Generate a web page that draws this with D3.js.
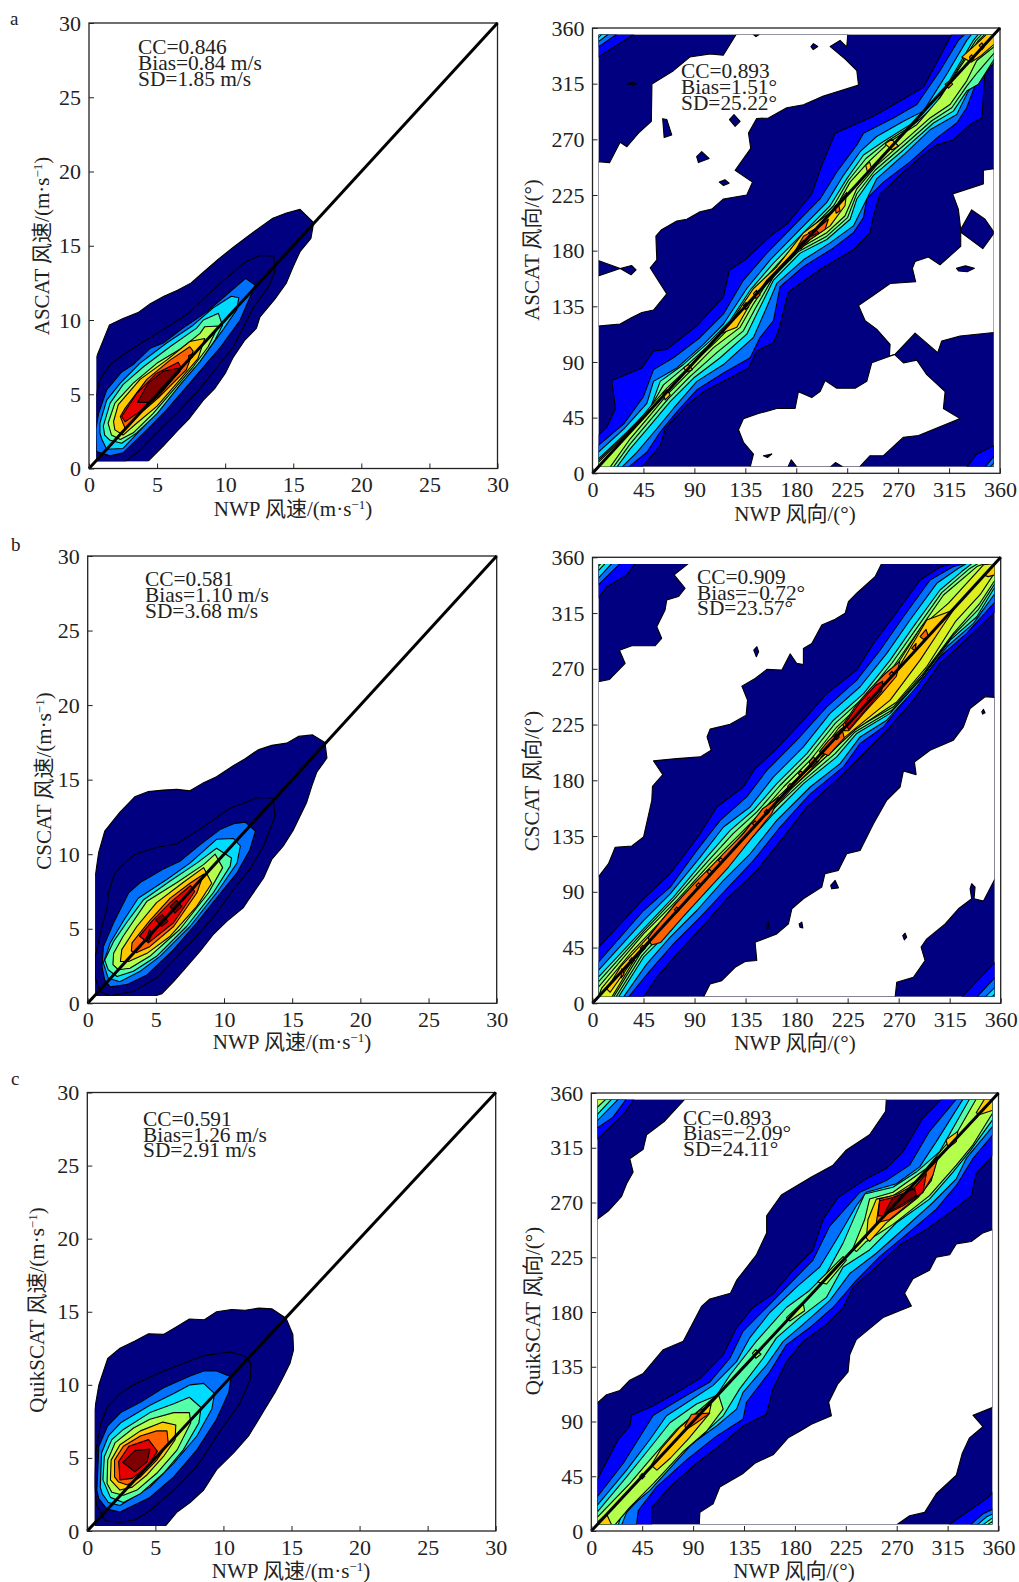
<!DOCTYPE html>
<html>
<head>
<meta charset="utf-8">
<script src="https://cdn.jsdelivr.net/npm/d3@7"></script>
<style>
  body { margin: 0; background: #fff; }
  text { font-family: "Liberation Serif", "Noto Sans CJK SC", serif; fill: #222; }
</style>
</head>
<body>
<script>
//CONTOUR DATA: [level, polygon] in axis units. level -1 is empty (white), drawn in list order
const speedA = [
  [0,[[.5,.45],[.5,7.4],[1.5,9.67],[2.5,10.1],[3.6,10.5],[4.5,11.1],[5.5,11.6],[6.5,12],[7.5,12.5],[8.5,13.3],[9.5,14.1],[10.6,14.9],[11.6,15.6],[12.5,16.2],[13.5,16.85],[14.5,17.2],[15.5,17.45],[16.5,16.55],[16.3,15.5],[15.5,14.6],[15,13.6],[14.5,12.5],[13.65,11.4],[12.55,10.2],[12.3,9.45],[11.45,8.65],[10.6,7.5],[10,6.4],[9.25,5.4],[8.4,4.6],[7.4,3.4],[6.45,2.5],[5.45,1.5],[4.3,.45]]],
  [1,[[.5,4.75],[.8,6],[1.55,7],[2.5,7.65],[3.75,8.4],[5.45,9.35],[7.3,10.45],[9.35,12.25],[11.45,13.9],[12.55,14.35],[13.55,14.3],[13.65,13.25],[13.25,12.35],[12.05,10.8],[10.6,8.2],[9.35,6.75],[8.15,5.4],[6.7,3.95],[5.2,2.6],[3.75,1.25],[2.65,.45],[.5,.45]]],
  [2,[[.5,2.6],[.7,3.7],[1.3,5.3],[2.4,6.5],[3.25,7],[4.5,8.1],[5.45,8.45],[6.9,9.45],[8.65,10.55],[10.1,11.7],[11.5,12.8],[12.2,12.35],[11.95,11.8],[11.1,10],[9.6,8.1],[8.65,7.1],[7.4,5.75],[5.7,3.95],[4.25,2.6],[2.5,1.05],[1.55,.85],[.55,1.15]]],
  [3,[[.8,3.05],[1.3,4.6],[2.3,5.75],[3.75,7.1],[5.7,8.45],[7.65,9.65],[9.1,10.8],[10.45,11.6],[11,11.5],[10.85,10.7],[9.85,9.35],[8.4,7.55],[6.9,6],[5.45,4.4],[4.25,3.05],[2.5,1.35],[1.3,1.3],[.95,1.95],[.8,2.4]]],
  [4,[[1.05,2.85],[1.55,4.4],[2.5,5.65],[4,6.85],[5.95,8.2],[7.9,9.45],[8.4,10],[9.5,10.45],[9.8,9.65],[9.25,8.65],[8.15,7.2],[6.7,5.65],[5,3.7],[3.5,2.4],[2.4,1.7],[1.55,1.9],[1.15,2.25]]],
  [5,[[1.4,3.05],[1.9,4.4],[3.25,5.75],[5,7.1],[6.8,8.1],[8.15,9.1],[8.5,9.55],[9.5,9.6],[8.75,8.2],[7.65,6.85],[6.2,5.3],[4.7,3.7],[3.25,2.4],[2.3,1.95],[1.65,2.25]]],
  [6,[[1.8,3.15],[2.15,4.3],[3.75,6],[5.7,7.3],[7.4,8.55],[8.5,8.75],[8,7.4],[6.7,6],[5,4.2],[3.5,3.05],[2.5,2.25],[1.9,2.6]]],
  [7,[[2.3,3.5],[2.65,4.05],[4.25,6],[5.95,7.3],[7.4,8.2],[7.65,7.9],[7.15,6.65],[5.2,4.85],[3.75,3.7],[2.65,2.7]]],
  [8,[[2.4,3.5],[3.5,5.05],[4.95,6.4],[6.55,7.15],[6.8,6.75],[5.2,4.95],[3.75,3.85],[2.65,3.15]]],
  [8,[[7.3,7.6],[7.65,7.75],[7.6,7.5],[7.35,7.4]]],
  [9,[[3.55,4.45],[4.35,5.75],[5.45,6.55],[6.55,6.75],[6.7,6.55],[5.45,5.3],[4.35,4.45]]]
]
const speedB = [
  [0,[[.55,.45],[.55,8.5],[.8,10.1],[1.25,11.55],[2.35,12.8],[3.45,13.85],[4.45,14.2],[5.55,14.3],[6.55,14.35],[7.5,14.25],[8.5,14.8],[9.45,15.2],[10.7,15.95],[11.55,16.4],[12.5,17],[13.5,17.3],[14.6,17.45],[15.45,17.9],[16.5,18],[17.4,17.5],[17.55,16.45],[16.8,15.5],[16.45,14.6],[16.05,13.45],[15.1,11.65],[14.35,10.55],[13.5,9.65],[12.9,8.4],[11.8,6.95],[11.4,6.4],[10.2,5.5],[9.2,4.6],[8.25,3.5],[7.25,2.45],[6.3,1.45],[5.45,.65],[4.8,.45]]],
  [1,[[.55,3.15],[1.05,5.15],[1.45,6.5],[1.5,7.4],[2,8.75],[2.6,9.3],[3.45,10],[5.05,10.45],[6.55,10.7],[8,11.55],[9.45,12.45],[10.45,13.1],[11.65,13.5],[12.5,13.8],[13.6,13.75],[13.75,12.55],[12.9,10.55],[11.9,9],[10.7,7.65],[9.45,6.05],[8,4.5],[6.3,2.9],[5.05,1.7],[3.35,.8],[1.65,.5],[.9,.8],[.55,1.7]]],
  [2,[[1.05,2.45],[1.15,3.8],[1.9,5.4],[3,7.4],[3.85,8.1],[5.55,9],[6.8,9.55],[8.25,10.65],[9.7,11.65],[10.7,12.05],[11.55,12.15],[12.3,11.55],[11.9,10.3],[10.95,8.75],[9.45,7.05],[8,5.4],[6.3,3.6],[4.35,1.9],[2.85,1.25],[1.65,1.1],[1.25,1.55]]],
  [3,[[1.15,2.7],[1.65,4.05],[2.6,5.5],[3.7,7.05],[5.8,8.3],[7.5,9.4],[9.45,11],[10.7,11.05],[11.2,10.55],[10.95,9.4],[9.45,7.4],[7.5,5.15],[5.3,3.15],[3.85,2.15],[2.35,1.45],[1.5,1.7]]],
  [4,[[1.25,2.9],[1.9,4.15],[3,5.6],[4.1,6.95],[6.05,8.2],[8,9.4],[9.45,10.4],[10.55,9.75],[10.45,9.2],[9.2,7.4],[7.25,5.15],[5.05,3.15],[3.35,2.15],[2.15,1.8],[1.5,2.25]]],
  [5,[[1.85,2.6],[1.9,3.35],[2.6,4.5],[4.35,6.85],[6.55,8.1],[8.5,9.3],[9.35,10],[9.9,9.1],[8.85,7.4],[6.75,4.95],[4.55,3.15],[3.1,2.35],[2.25,2.25]]],
  [6,[[2.4,2.8],[2.5,3.6],[3.6,5.15],[5.05,6.75],[7,8.1],[8.5,9.1],[9.1,8.05],[8,6.5],[6.05,4.5],[4.35,3.35],[3,2.8]]],
  [7,[[3.2,3.5],[3.25,4.05],[4.6,5.6],[6.05,7.05],[7.5,8.05],[8.5,8.65],[8,7.4],[6.3,5.15],[4.55,3.8],[3.6,3.4]]],
  [8,[[3.8,4.5],[4.8,5.6],[6.05,6.75],[7.55,7.9],[7.85,7.5],[6.3,5.4],[4.45,4.05]]],
  [9,[[4.3,4.35],[4.55,4.95],[4.7,4.6],[4.45,4.15]]],
  [9,[[5,5.6],[5.45,5.95],[5.9,5.5],[5.4,5.15]]],
  [9,[[6.05,6.5],[6.5,6.9],[6.9,6.5],[6.4,6.05]]]
]
const speedC = [
  [0,[[.5,.3],[.5,8.1],[.85,10],[1.5,11.8],[2.4,12.5],[3.5,13],[4.5,13.5],[5.6,13.45],[6.6,14],[7.5,14.5],[8.6,14.45],[9.5,15],[10.6,15.15],[11.6,15.1],[12.6,15.25],[13.55,15.2],[14.6,14.55],[15.1,13.45],[15.15,12.4],[14.9,11.5],[14.4,10.55],[13.8,9.5],[13.05,8.35],[11.85,6.5],[10.75,5.35],[9.5,4.2],[8.55,2.8],[7.55,1.95],[6.6,1.3],[5.7,.3]]],
  [1,[[.5,3.25],[.65,5.55],[.95,7.2],[1.45,8.45],[2.4,9.4],[3.4,10],[5.6,10.95],[7.55,11.65],[8.55,12],[10.5,12.25],[11.6,11.95],[12,11.5],[12,10.45],[11.25,8.8],[9.5,6.5],[8.05,4.4],[6.35,2.8],[4.6,1.4],[3.5,.75],[2.4,.6],[1.3,.7],[.7,1.75]]],
  [2,[[.7,2.8],[.85,5.8],[1.5,7.2],[2.45,8.1],[3.9,8.8],[5.6,9.8],[7.55,10.6],[8.55,10.95],[9.5,10.95],[10.55,10.55],[10.4,9.5],[9.5,7.65],[8.05,5.55],[6.35,3.7],[4.6,2.3],[2.4,1.3],[1.45,1.5],[.85,2.2]]],
  [3,[[.95,3],[1.05,5.35],[1.55,6.5],[2.45,7.4],[4.6,8.6],[6.35,9.4],[7.55,10],[8.55,10.1],[9.35,9.4],[9.15,8.35],[8.05,6.5],[6.35,4.65],[4.6,3],[2.4,1.75],[1.55,1.95],[1.1,2.55]]],
  [4,[[1.15,3.5],[1.25,5.1],[1.8,6.25],[2.65,6.95],[4.6,8.1],[6.35,8.7],[7.5,9.15],[8.35,8.45],[8.2,7.4],[7.05,5.55],[5.6,3.95],[3.9,2.55],[2.65,1.95],[1.7,2.3]]],
  [5,[[1.45,3.25],[1.5,4.85],[2.05,6.05],[3.4,7.05],[4.6,7.65],[6.35,8.1],[7.5,8.1],[7.6,7.4],[6.6,5.55],[5.1,3.95],[3.65,2.8],[2.65,2.45],[1.8,2.65]]],
  [6,[[1.7,3.5],[1.75,4.85],[2.4,5.9],[3.9,6.85],[5.55,7.45],[6.5,7.25],[6.45,6.25],[5.6,5.1],[4.4,3.85],[3.3,3],[2.4,2.8]]],
  [7,[[2,3.7],[2,4.85],[2.65,5.8],[3.9,6.5],[5.1,6.85],[5.85,6.85],[5.95,6],[5.1,4.85],[3.9,3.7],[2.95,3.15],[2.3,3.35]]],
  [8,[[2.4,3.5],[2.3,4.75],[3.05,5.8],[4.5,6.25],[5.15,5.45],[4.4,4.4],[3.3,3.6]]],
  [9,[[2.6,4.7],[3.5,5.5],[4.6,5.6],[4.4,4.75],[3.5,4.05]]]
]
const dirA = [
  [0,[[5,5],[355,5],[355,355],[5,355]]],
  [-1,[[127,355],[115.5,338],[104,339],[86,336.5],[71.5,325.5],[52.5,314.6],[52,284.6],[40.6,275],[30.4,264],[24.4,267.6],[15,251],[5,252],[5,119],[24.4,120.7],[34.7,126],[43.6,130],[53.9,132],[65.6,145],[51,166],[56.8,172.6],[56,191.7],[61,197],[74.5,204],[83.3,205.4],[95,211.4],[105.4,213.6],[115.7,221.8],[136.3,225],[141.3,235.4],[126,245],[139.8,262.7],[137.8,275],[145,286.8],[155.4,287.3],[171.6,295.5],[186.4,298],[204,305],[235,313.8],[233.5,325.5],[223,335],[210,345],[218.7,350],[224.6,344.7],[225.5,355]]],
  [-1,[[355,246.3],[345.3,245],[345.3,234],[318.2,225.9],[323.2,213.6],[325.3,197.2],[325.3,183.5],[307,168.5],[296.7,174.8],[285,171.2],[282.6,165.8],[285.5,154.8],[263,153.5],[248.2,144],[235,135.7],[240.9,123.4],[251,116.6],[262.9,104.3],[262.3,94.8],[267,96],[285,113.3],[305,97.5],[308.5,107],[324.7,111],[355,113.9]]],
  [-1,[[261.4,94.2],[246.7,89.3],[242.3,74.3],[232,68.8],[215.8,68.8],[205.5,75],[201,66],[193.7,61.2],[181.9,66],[179,52.4],[162.8,52.4],[146.6,48.3],[133.4,44.2],[129,35.2],[133.4,25.1],[142.2,15.6],[139.3,5],[235.8,5],[245.2,14.2],[257,14.2],[274.7,29.2],[288,30.6],[324.7,44.2],[310,52.4],[311.5,66],[295.3,79.7],[286.5,91.5],[274.7,89.3],[267,96]]],
  [0,[[30.4,315],[36,316],[39,315],[36,314]]],
  [0,[[62,286.7],[65.6,286],[70,273.6],[63.3,271.5]]],
  [0,[[121,286],[125,290],[130.4,284.6],[126,280.5]]],
  [0,[[92,256],[96.5,260],[103,254.5],[93.6,251.2]]],
  [0,[[112,235.4],[117,237.3],[120.7,234.5],[115.7,232.7]]],
  [0,[[193,345],[195.2,347.4],[199,345],[195,342.5]]],
  [0,[[141.6,355],[144.4,353],[147.6,355]]],
  [0,[[5,172],[24.5,165.5],[34.5,168],[38.5,164.5],[34,160.5],[24.5,165.5],[5,159.5]]],
  [0,[[325.3,197.2],[335,213],[346.8,205.4],[355,194.5],[344.8,181.6],[326,194.5]]],
  [0,[[321.5,165.8],[329.5,167.7],[337.4,165.8],[331,163],[323.5,163.5]]],
  [0,[[151,14.2],[158.4,15.6],[154.6,12.8]]],
  [0,[[172.6,5],[175.6,10.9],[180.6,5]]],
  [0,[[210,5],[214.6,8.7],[221.7,5]]],
  [1,[[5,355],[36.8,355],[5,336.5]]],[2,[[5,355],[21.6,355],[5,344.6]]],[3,[[5,355],[14.1,355],[5,348.8]]],[4,[[5,355],[8.2,355],[5,352]]],
  [1,[[330.6,5],[339.5,15.6],[355,22.4],[355,5]]],[2,[[346.8,5],[355,14.2],[355,5]]],[3,[[351.3,5],[355,8.7],[355,5]]],
  [1,[[5,30.6],[12.7,37.4],[20.3,52.4],[17,75],[43.6,85.2],[53.9,98.9],[65.7,100.2],[92.2,119.3],[115.7,142.6],[121,164.4],[134.8,172.6],[157,191.7],[171.6,201.3],[186.4,217.7],[193.7,225.9],[202.6,249],[214.4,275],[248.2,288.7],[271.7,301],[292.3,312],[310,342],[317.3,355],[355,355],[355,339],[346.8,327],[344,287.3],[333.5,282],[318.8,269.5],[304,265.5],[295.3,260],[274.7,243.6],[254,225.9],[248.2,208],[245.2,194.5],[230.5,180.8],[202.6,165.8],[173,146.7],[164.3,115.2],[159.9,105.7],[145.1,98.9],[137.8,85.2],[98,66],[83.3,55.2],[64.2,36],[59.8,22.4],[43.6,5],[5,5]]],
  [2,[[5,22.4],[27.8,40.1],[45,62],[53.9,83.8],[71.5,93.4],[95,109.8],[115.7,128.9],[133.4,156.2],[154,178],[183.4,205.4],[201,221.8],[215.8,243.6],[233.5,265.5],[239.4,275],[265.8,287.3],[286.5,298.2],[307,325.5],[323.2,350],[329,355],[355,355],[355,335],[339.5,317.3],[330.6,295.5],[321.8,283.2],[304,271],[280.6,251.8],[257,235.4],[242.3,221.8],[239.4,206.7],[230.5,194.5],[212.9,182.2],[186.4,167.1],[165.7,150.8],[159.9,123.4],[148,109.8],[139.3,93.4],[115.7,81.1],[92.2,67.5],[74.5,49.7],[59.8,33.3],[48,17],[31.8,5],[5,5]]],
  [3,[[5,17],[27.8,36],[48,56.5],[53.9,74.3],[74.5,85.2],[98,104.3],[115.7,120.7],[136.3,149.4],[157,172.6],[186.4,200],[207,219],[221.7,240.9],[236.4,260],[251,272.3],[274.7,284.6],[292.3,292.8],[313,322.8],[330.6,350],[335,355],[355,355],[355,332.4],[345.3,321.4],[335,314.6],[321.8,290],[298.2,277.7],[274.7,257.3],[251,238],[239.4,216.3],[230.5,200],[209.9,186.3],[186.4,172.6],[162.8,153.5],[154,134.4],[142.2,109.8],[115.7,87.9],[92.2,74.3],[71.5,52.4],[56.8,36],[39.2,17],[25.9,5],[5,5]]],
  [4,[[5,11.5],[30.3,33.3],[51,52.4],[59.8,74.3],[80.4,88],[104,107],[121.6,123.4],[139.3,148],[159.9,170],[189.3,197.2],[209.9,216.3],[224.6,238],[239.4,257.3],[257,268.2],[280.6,281.8],[298.2,290],[318.8,322.8],[336.5,350],[341,355],[355,355],[355,335],[341,314.6],[330.6,309],[318.8,292.8],[301.2,283.2],[274.7,261.4],[248.2,240.9],[233.5,221.8],[227.6,205.4],[207,189],[183.4,178],[159.9,156.2],[145.1,128.9],[136.3,112.5],[112.8,93.4],[89.3,77],[68.6,57.9],[51,38.8],[33.3,19.7],[21.5,5],[5,5]]],
  [10,[[5,10],[33,35],[51,53],[62.7,71.5],[83,87],[107,107],[124.5,123.4],[142,146.7],[163,168.5],[191,196],[213,216.3],[226,236.7],[241.6,254.5],[260,268.2],[283.5,281.8],[302.6,297],[321.7,325.5],[338.7,350],[344,355],[355,355],[355,340],[340,324],[330.6,313],[317.4,295.5],[299.7,285],[274.7,264.8],[249.6,245],[233.5,226],[225.3,206.7],[207,191.7],[182,179.4],[159.9,159],[143.7,133],[133.3,115.2],[109.8,97.5],[86.3,78.3],[67.2,60.6],[51,43],[33.3,23.8],[18.5,5],[5,5]]],
  [5,[[5,8.7],[36.2,37.4],[51,53.8],[65.7,68.8],[86.3,86.6],[109.8,107],[127.5,123.4],[145,145.3],[165.7,167],[192,194.5],[215.8,216.3],[227.6,235.4],[243.8,251.8],[262.9,268.2],[286.5,281.8],[307,303.7],[324.7,328.3],[341,350],[346.8,355],[355,355],[355,345],[339.5,333.7],[330.6,317.3],[315.9,298.2],[298.2,287.3],[274.7,268.2],[251,249],[233.5,230],[223,208],[207,194.5],[180.5,180.8],[159.9,161.7],[142.2,137],[130.4,118],[106.9,101.6],[83.3,79.7],[65.7,63.4],[51,47],[33.3,27.9],[15.6,5],[5,5]]],
  [6,[[112.8,112.5],[123,123.4],[142.2,149.4],[162.8,167],[186.4,194.5],[209.9,210.8],[224.6,227.2],[223,216.3],[209.9,200],[192.2,189],[171.6,172.6],[154,156.2],[139.3,137],[127.5,118],[115.7,113.9]]],
  [6,[[258.5,266.3],[264.4,270],[270.3,264.6],[264.4,261.4]]],
  [6,[[241.4,249],[244.7,251.8],[246.7,246.3],[242.9,243.6]]],
  [6,[[62.1,64.7],[65.7,67.5],[68.6,63.4],[64.2,59.3]]],
  [6,[[80.4,85.2],[84.8,88],[88.3,83.8],[83.3,82]]],
  [6,[[311.5,314.6],[315.3,317.3],[318.2,314.6],[314.4,311.3]]],
  [6,[[326.2,336.5],[339.5,347.4],[348.3,355],[355,355],[355,347],[343.5,337.8],[334.7,332.4]]],
  [7,[[174.6,172.6],[186.4,191.7],[198,197.2],[208.4,205.4],[205.5,197.2],[192.2,189],[180.5,179.4]]],
  [7,[[214.3,216.3],[217.3,217.7],[218.7,212.2],[215.2,210.3]]],
  [7,[[142.2,145.3],[145,148],[148,144],[144.5,141.2]]],
  [7,[[133.4,135.7],[135.7,138],[138,134.4],[134.8,132.4]]],
  [7,[[333,336.5],[335,338.4],[337,335],[334.4,333.2]]],
  [7,[[341.6,346],[344,348],[346,344.7],[344,342.5]]],
  [8,[[190.8,194.5],[196.7,197.7],[199.6,194.5],[193.7,191.7]]],
  [8,[[183,184.9],[186.4,188.4],[187.8,184.9],[184,181.3]]]
]
const dirB = [
  [0,[[5,5],[355,5],[355,355],[5,355]]],
  [-1,[[5,259.5],[15,261.4],[28.8,274.4],[23.8,285],[34.7,288.6],[55.3,288.6],[61,294.6],[56.7,304],[64,317.5],[65.5,325.6],[75.8,328.3],[81.7,335],[72,345.8],[84.6,355],[255,355],[249.2,344.4],[233,331],[225.7,324.2],[222.8,314.8],[214,310],[202.2,305.3],[193.4,290.5],[186,286.5],[186,273.5],[180,274.4],[174.3,282],[167,269],[153.7,269.5],[143.4,262.2],[131.7,256],[136.7,244.7],[135.5,232.6],[121.4,225.3],[103.7,221.3],[101,215],[104.6,204.3],[95,198.9],[74.4,197.5],[53.8,195.7],[62,184.6],[52.9,175.2],[52.3,163.9],[45,134.2],[34.7,127],[20,126],[14.1,112.7],[5,101.9]]],
  [-1,[[97.9,5],[103.7,15.6],[114,18.3],[125.8,29.1],[134.6,33.7],[144.9,34.5],[143.4,49.3],[162.5,56],[172.8,64.1],[175.8,76.3],[186,84.4],[202.2,93.8],[205,104.6],[216.9,107.3],[224.2,120.7],[236,123.4],[247.8,145],[259.5,163.9],[271.3,174.6],[274.2,187.6],[285.4,184.6],[283.9,194.8],[297.7,204.3],[318.3,212.4],[327.1,223.1],[333,238],[346.2,247.4],[355,246.9],[355,100.5],[344.8,82.5],[336.5,84.4],[337.4,93.8],[334.4,96.5],[333,92.4],[334.4,84.4],[322.7,76.3],[311,64.1],[294.8,52],[289.8,45.3],[293.3,34.5],[283,21],[268.3,17],[266.9,5]]],
  [0,[[142.2,285.1],[145,287.8],[146.5,283.8],[144.5,279.7]]],
  [0,[[210.1,95.1],[214,99.2],[216.9,93.2],[211,92.4]]],
  [0,[[153.7,62.8],[155.2,65.5],[156,60],[154.3,59.3]]],
  [0,[[182.2,64.1],[184.6,65.5],[185.5,60.9],[183,61.4]]],
  [0,[[273.6,54.7],[275.7,56.6],[277.1,53.4],[275,51.2]]],
  [0,[[343.3,235.3],[344.8,237.2],[346.2,234.5],[344.1,233.4]]],
  [1,[[5,355],[37.6,355],[30.3,345.8],[12.6,336.3],[5,327]]],[2,[[5,355],[24.4,355],[5,337.6]]],[3,[[5,355],[17,355],[5,343]]],[4,[[5,355],[11.2,355],[5,349]]],[5,[[5,355],[7.3,355],[5,352.5]]],
  [1,[[325.6,5],[355,33.1],[355,5]]],[2,[[338.9,5],[355,21],[355,5]]],[3,[[346.2,5],[355,12.9],[355,5]]],[4,[[352,5],[355,7.5],[355,5]]],
  [1,[[5,44.7],[45,84.4],[68.5,104.6],[95,137],[109.6,158.5],[133,174.6],[143.4,189.5],[159.6,203],[186,228.5],[206.6,250],[233,269],[247.8,290.5],[265.4,312],[288.9,341.7],[306.5,352],[316.8,355],[355,355],[355,316],[324.2,289],[306.5,274.4],[283,244.7],[259.5,220.5],[247.8,209.7],[221.3,185.4],[189,158.5],[168.4,134.2],[144.9,107.3],[118.4,84.4],[96.4,61.4],[74.4,39.9],[56.7,21],[45,5],[5,5]]],
  [2,[[5,33.1],[45,74.9],[68.5,93.8],[92,123.4],[112.6,147.7],[136,166.6],[153.7,188],[180.2,212.4],[206.6,239.3],[233,260.9],[253.6,285],[274.2,312],[297.7,341.7],[318.3,352.5],[328.6,355],[355,355],[355,324],[330,298.6],[306.5,279.7],[280,250],[256.6,223],[236,209.7],[221.3,190.8],[192,169],[165.5,142.3],[142,115.3],[118.4,92.4],[95,69.5],[71.4,48],[50.8,26.4],[31.7,5],[5,5]]],
  [3,[[5,26.4],[45,66.8],[68.5,88.4],[95,118],[115.5,142.3],[139,158.5],[159.6,182.7],[186,207],[209.5,234],[236,255.5],[259.5,282.4],[280,309.4],[303.6,339],[322.7,351.2],[330,355],[355,355],[355,331],[336,306.7],[312.5,287.8],[285.9,255.5],[259.5,228.5],[236,215],[218.4,193.5],[192,174.6],[162.5,147.7],[139,120.7],[115.5,99.2],[92,74.9],[68.5,53.4],[47.9,31.8],[27.3,5],[5,5]]],
  [4,[[5,21],[45,60],[71.4,85.7],[100.8,118],[121.4,139.6],[142,155.8],[162.5,177.3],[189,201.6],[212.5,228.5],[239,250],[262.5,277],[283,304],[306.5,333.6],[325.6,348.5],[334.7,355],[355,355],[355,336.3],[338.9,312],[315.4,293.2],[288.9,260.9],[262.5,234],[233,217.8],[215.4,198.9],[186,177.3],[159.6,153],[133,126],[109.6,103.2],[86,80.3],[65.5,56],[45,37.2],[22.9,5],[5,5]]],
  [10,[[5,17],[45,58],[72.5,84.5],[102,115],[124,137],[145,154.5],[165.5,176],[190.5,199],[214,226],[240.5,248],[264,274.5],[284.5,301],[308,331.5],[332,350.5],[340,355],[355,355],[355,339],[340,317.5],[317,296],[290.5,263.5],[264,236.5],[231.5,219],[214,201.5],[184.5,178.5],[158,155.7],[131.5,128.7],[108,105],[84.5,81.5],[62.5,57.5],[43.5,38.5],[20.7,5],[5,5]]],
  [5,[[5,12.9],[45,56],[74.4,83],[103.7,112.7],[127.3,134.2],[147.8,153],[168.4,174.6],[192,196.2],[215.4,223],[241.9,246],[265.4,271.7],[286,298.6],[309.6,329.6],[339,352.5],[346.2,355],[355,355],[355,341.7],[341.6,322.9],[318.3,298.6],[291.8,266.3],[265.4,239.3],[230,220.5],[212.5,204.3],[183,180],[156.6,158.5],[130.2,131.5],[106.7,107.3],[83,83],[59.7,58.8],[42,39.9],[18.5,5],[5,5]]],
  [11,[[8,12],[35,42],[60,66],[74,81],[105,110],[130,132],[150.5,152],[171,173],[195,195],[217,222],[243,244],[268,272.5],[290,304],[314,323],[345,354],[355,355],[355,348],[342,330],[320,308],[295,272],[268,243],[232,221],[214,206],[184.5,181],[155,158],[129,131.5],[104,106],[80,80],[56.5,56],[37.5,36],[17,5],[5,5]]],
  [6,[[12.6,11.6],[24.4,29.1],[45,49.3],[74.4,79],[106.7,107.3],[133,130.2],[153.7,150.4],[174.3,172],[197.8,193.5],[218.4,220.5],[244.8,242],[271.3,273],[294.8,309.4],[318.3,317.5],[306.5,301.3],[288.9,277],[262.5,244.7],[230,220.5],[212.5,207],[183,182.7],[153.7,158.5],[127.3,131.5],[100.8,104.6],[77.3,77.6],[53.8,53.4],[33.2,31.8],[15.6,8.9]]],
  [6,[[344.8,345.8],[355,354],[355,345.8],[349,344.4]]],
  [7,[[49,53],[60,66],[74,81],[90,97],[104,110],[120,125],[133,137],[150,157],[164,166],[158,153],[140,133],[120,110],[100,90],[80,70],[60,49],[52,47]]],
  [7,[[221,225],[232,240],[245,254],[258,266],[271,276],[268,264],[255,250],[240,235],[226,220],[222,220]]],
  [7,[[200,203],[208,212],[220,222],[222,214],[208,200]]],
  [7,[[25.3,25],[25.8,27.8],[27.9,23.7],[25.3,20.5]]],
  [7,[[191,194.8],[194.9,198.9],[197.8,194.8],[193.4,190.8]]],
  [7,[[288.9,296],[294.2,301.8],[296.2,296],[291.8,293.8]]],
  [7,[[281.5,286.5],[285.4,290.5],[284.5,284.6]]],
  [8,[[223,226],[235,242],[250,257],[256,260],[255,252],[240,236],[226,221]]]
]
const dirBKnots = [[34.7,34.5],[44.4,44.7],[74.4,75.5],[93.5,95],[103.2,106],[113.2,115.3],[143.4,145],[153.7,154.4],[174.3,175.2],[183.7,185.4],[215.4,215],[244.2,245.2],[264,265.7]]
const dirC = [
  [0,[[5,5],[355,5],[355,355],[5,355]]],
  [-1,[[5,256],[15,263],[26.8,275],[31.2,285.4],[37,295],[34,306],[45.9,313.8],[48.9,325.7],[65,337],[82.7,355],[260.8,355],[260.2,345],[246,325.7],[225.5,313.2],[213.7,300.7],[194.6,291],[168,276.2],[155,259],[155,245],[146,227],[128.4,206],[123,195.4],[104.8,190.7],[97.4,184.6],[81.3,155.9],[63.6,149],[45.9,129.5],[34,123.9],[25.3,115.5],[13.5,112],[5,105]]],
  [-1,[[95.4,5],[96,15.3],[107.7,22.3],[113.6,36.2],[134.2,47.3],[144.6,55.7],[160.7,62.6],[174,76.6],[184.3,82],[194.6,87.7],[212.3,94.7],[209.9,105.8],[218,121],[227,130.8],[228.5,144.8],[234.3,157.3],[257.9,175.4],[283,185],[277,195.4],[284.4,207.4],[299,214.4],[305,225],[316.8,227],[322.7,236],[335.9,238],[346.2,245],[355,247.8],[355,101.6],[337.4,95.2],[346.2,85.7],[334.4,76.6],[328,64],[322.7,46],[305,30.6],[294.7,15.3],[281.4,12.5],[269.7,5]]],
  [1,[[5,355],[38,355],[28,342],[5,322]]],[2,[[5,355],[31,355],[19,340],[5,331]]],[3,[[5,355],[24,355],[5,337]]],[4,[[5,355],[18,355],[5,342]]],[5,[[5,355],[13,355],[5,348]]],
  [1,[[316,5],[350,27],[355,32],[355,5]]],[2,[[335,5],[346,14],[355,18],[355,5]]],[3,[[341,5],[350,12],[355,14],[355,5]]],[4,[[346,5],[355,11],[355,5]]],[5,[[350,5],[355,8],[355,5]]],
  [1,[[5,41.8],[23.8,75.2],[34.2,86.3],[35.6,95.2],[54.8,103],[81.3,117],[96,125.3],[116.6,144.8],[128.4,167],[143,183.7],[160.7,194.9],[178.4,214.4],[196,231],[204.9,256],[218,274],[243,289.5],[260.8,298],[275.5,311.8],[293.2,339.6],[309.4,355],[355,355],[355,309],[340.3,293.7],[336,275.6],[316.8,261.7],[296.2,247.8],[272.6,235.2],[252,217],[231.4,200.4],[222.6,183.7],[207.8,169.8],[187.2,155.9],[172.5,139.2],[160.7,117],[154.8,96],[134.2,86.3],[116.6,72.4],[93,55.7],[69.5,36.2],[53.3,19.5],[53.3,5],[5,5]]],
  [2,[[5,27.8],[28.3,55.7],[48.9,86.3],[54.8,95.2],[81.3,110],[104.8,122.5],[122.5,142],[134.2,164.3],[154.9,183.7],[178.4,206],[196,222.7],[210.8,250.6],[237.3,278.4],[260.8,288],[281.4,300.7],[299,328.5],[322.7,355],[355,355],[355,325.7],[337.4,306.2],[322.7,284],[305,264.5],[278.5,243.6],[255,225.5],[234.3,206],[213.7,183.7],[193,167],[172.5,153],[157.8,130.8],[137.2,105.8],[134.2,91.9],[110.7,78],[84.2,58.5],[57.7,36.2],[41.5,16.7],[40,5],[5,5]]],
  [3,[[5,20.9],[31.2,50],[51.8,75.2],[66.5,94.7],[87,107],[107.7,119.7],[128.4,139.2],[140,158.7],[157.8,179.6],[181.4,200.4],[202,217],[216.7,239.4],[234.3,267.3],[243.2,278.4],[269.7,285.4],[290.3,299.3],[305,320],[328.6,355],[355,355],[355,332.7],[331.5,306.2],[322.7,289.5],[302,270],[275.5,247.8],[252,228.3],[228.5,211.6],[210.8,189.3],[187.2,169.8],[169.6,155.9],[154.9,136.4],[134.2,114],[128.4,100.2],[110.7,86.3],[81.3,66.8],[54.8,39],[31.2,15.3],[26.8,5],[5,5]]],
  [4,[[5,15.3],[31.2,44.5],[51.8,68.2],[69.5,89],[93,104.4],[110.7,111.4],[122.5,128],[146,156],[172.5,183.7],[193,197.7],[207.8,211.6],[222.6,236.6],[234.3,261.7],[241.7,277],[266.7,282.6],[287.3,295],[308,311.8],[334.4,355],[355,355],[355,338.3],[334.4,311.8],[319.7,295],[299,272.8],[269.7,253.3],[246,231],[222.6,217],[207.8,192],[184.3,175.4],[163.7,158.7],[151.9,142],[131.3,117],[116.6,94.7],[87,69.6],[51.8,33.4],[26.8,13.9],[23.8,5],[5,5]]],
  [5,[[5,11],[34,39],[51.8,58.5],[75.4,83.5],[101.9,104.4],[112.2,112.8],[116.6,100.2],[101.9,82],[81.3,65.4],[54.8,39],[34,19.5],[20.9,5],[5,5]]],
  [5,[[172.5,175.4],[187.2,188],[188.6,181],[175.5,172.6]]],
  [5,[[142.5,146],[145.4,149],[150,145.3],[145.4,142]]],
  [5,[[231.4,232.5],[241.7,256],[246,272.8],[266.7,278.4],[296.2,298],[311,314.6],[324,328.5],[340.3,355],[355,355],[355,343.8],[337.4,317.4],[322.7,300.7],[299,275.6],[266.7,252],[243.2,238],[234.3,229.7]]],
  [5,[[200,204.6],[207.8,211.6],[222.6,225.5],[225.5,222.7],[208,203]]],
  [6,[[5,7],[13.5,14],[18,5],[5,5]]],
  [6,[[53,54],[62,68],[78,85],[96,99],[106,104],[104,96],[86,76],[70,60],[58,50]]],
  [6,[[243.2,240.8],[244.6,256],[252,272.8],[266.7,275.6],[287.3,288],[305.8,307.6],[300.6,288],[288.8,274],[260.8,253.3],[246,238]]],
  [6,[[340.3,343.8],[347.7,355],[355,355],[355,345.8],[343.5,342.4]]],
  [6,[[313.7,321.5],[324,328.5],[322.7,320],[315.3,314.6]]],
  [7,[[82.7,86.3],[88.6,96],[104.8,96.9],[93,89],[84.2,83.5]]],
  [7,[[252,253.3],[255,272.8],[271,277],[284.4,284],[306.4,306.8],[302,292.3],[293.2,278.4],[263.8,256]]],
  [8,[[253.5,259],[255,271.4],[272.6,275.6],[285.9,282.6],[296.2,293.7],[293.2,278.4],[275.5,267.3],[257.9,259]]],
  [9,[[259.5,261.7],[266.7,274.2],[285.9,281.2],[287.3,275.6],[262.5,261.7]]]
]
const dirCKnots = [[45,45]]

//TICK LABELS AND COLOURS
const speedTicks = [0,5,10,15,20,25,30]
const dirTicks = [0,45,90,135,180,225,270,315,360]
const speedColors = ["#000080","#000080","#0070ff","#00dcff","#55ffaa","#b4ff4b","#ffc800","#ff6000","#e60000","#7f0000"]
const dirColors = ["#000080","#0000ff","#0070ff","#00dcff","#55ffaa","#b4ff4b","#ffc800","#ff6000","#e60000","#7f0000","#80ff78","#dcf020"]

const svg = d3.select("body").append("svg").attr("width", 1019).attr("height", 1582)

//PANEL LAYOUT, one row per panel
const panels = [
  {name:"speedA", data:speedA, knots:[], knotLevel:7, max:30, ticks:speedTicks, colors:speedColors, edge:[.5,30,.45], box:[89,497.5,23,468.5],
   stats:["CC=0.846","Bias=0.84 m/s","SD=1.85 m/s"], statX:138, statY:[53.5,70,86], xl:"风速", yl:"ASCAT 风速", unit:"speed", xlY:516, xlX:293, ylX:49, ylY:246},
  {name:"dirA", data:dirA, knots:[], knotLevel:7, max:360, ticks:dirTicks, colors:dirColors, edge:[5,355,5], box:[592.5,1000,28,473.3],
   stats:["CC=0.893","Bias=1.51°","SD=25.22°"], statX:681, statY:[78,94,110], xl:"风向", yl:"ASCAT 风向", unit:"dir", xlY:521, xlX:795, ylX:539, ylY:250},
  {name:"speedB", data:speedB, knots:[], knotLevel:7, max:30, ticks:speedTicks, colors:speedColors, edge:[.5,30,.45], box:[87.7,496.7,556,1003.3],
   stats:["CC=0.581","Bias=1.10 m/s","SD=3.68 m/s"], statX:145, statY:[586,602,618], xl:"风速", yl:"CSCAT 风速", unit:"speed", xlY:1049, xlX:292, ylX:51, ylY:781},
  {name:"dirB", data:dirB, knots:dirBKnots, knotLevel:7, max:360, ticks:dirTicks, colors:dirColors, edge:[5,355,5], box:[592.5,1000.7,557.3,1003.3],
   stats:["CC=0.909","Bias=−0.72°","SD=23.57°"], statX:697, statY:[584,600,615], xl:"风向", yl:"CSCAT 风向", unit:"dir", xlY:1050, xlX:795, ylX:539, ylY:781},
  {name:"speedC", data:speedC, knots:[], knotLevel:7, max:30, ticks:speedTicks, colors:speedColors, edge:[.5,30,.3], box:[87.3,495.7,1092.5,1531],
   stats:["CC=0.591","Bias=1.26 m/s","SD=2.91 m/s"], statX:143, statY:[1126,1142,1157], xl:"风速", yl:"QuikSCAT 风速", unit:"speed", xlY:1578, xlX:291, ylX:44, ylY:1310},
  {name:"dirC", data:dirC, knots:dirCKnots, knotLevel:5, max:360, ticks:dirTicks, colors:dirColors, edge:[5,355,5], box:[591.3,998.5,1093,1531],
   stats:["CC=0.893","Bias=−2.09°","SD=24.11°"], statX:683, statY:[1124.7,1140,1156], xl:"风向", yl:"QuikSCAT 风向", unit:"dir", xlY:1578, xlX:794, ylX:540, ylY:1311}
]

const panelLetters = [["a",10,25],["b",11,551],["c",11,1085]]
panelLetters.forEach(d => svg.append("text").attr("x", d[1]).attr("y", d[2]).style("font-size","19px").text(d[0]))

//axis label with a small raised -1 for the speed unit
function unitLabel(sel, label, unit){
  sel.append("tspan").text(label + "/(")
  if(unit == "speed"){
    sel.append("tspan").text("m·s")
    sel.append("tspan").attr("dy",-7).style("font-size","13px").text("−1")
    sel.append("tspan").attr("dy",7).text(")")
  } else {
    sel.append("tspan").text("°)")
  }
}

panels.forEach((p, i) => {
  const [left, right, top, bottom] = p.box
  const X = d3.scaleLinear().domain([0, p.max]).range([left, right])
  const Y = d3.scaleLinear().domain([0, p.max]).range([bottom, top])
  const line = d3.line().x(d => X(d[0])).y(d => Y(d[1]))

  //CONTOURS, clipped so the line along the data edge does not show
  const clipId = "clip-" + p.name
  const [e0, e1, eb] = p.edge
  svg.append("clipPath").attr("id", clipId).append("rect")
    .attr("x", X(e0) + .6).attr("y", Y(e1) + .6)
    .attr("width", X(e1) - X(e0) - 1.2)
    .attr("height", Y(eb) - Y(e1) - 1.2)

  const contours = svg.append("g").attr("clip-path", `url(#${clipId})`)
  contours.selectAll("path").data(p.data).enter().append("path")
    .attr("d", d => line(d[1]) + "Z")
    .attr("fill", d => d[0] < 0 ? "#fff" : p.colors[d[0]])
    .attr("stroke", "#000")
    .attr("stroke-width", 1.1)
    .attr("stroke-linejoin", "round")

  //small closed rings sitting on the diagonal
  const dd = 2.2
  contours.selectAll(".knot").data(p.knots).enter().append("path").classed("knot", true)
    .attr("d", d => line([[d[0]-dd,d[1]],[d[0],d[1]+dd],[d[0]+dd,d[1]],[d[0],d[1]-dd]]) + "Z")
    .attr("fill", p.colors[p.knotLevel])
    .attr("stroke", "#000")
    .attr("stroke-width", 1.1)

  //FRAME
  svg.append("rect").attr("x", left).attr("y", top)
    .attr("width", right - left).attr("height", bottom - top)
    .attr("fill", "none").attr("stroke", "#222").attr("stroke-width", 1.3)

  //DIAGONAL
  svg.append("path").attr("d", line([[0,0],[p.max,p.max]]))
    .attr("stroke", "#000").attr("stroke-width", 3).attr("fill", "none")

  //AXES
  const xAxis = svg.append("g").attr("transform", `translate(0, ${bottom})`)
    .call(d3.axisBottom(X).tickValues(p.ticks).tickSize(-5).tickPadding(8))
  const yAxis = svg.append("g").attr("transform", `translate(${left}, 0)`)
    .call(d3.axisLeft(Y).tickValues(p.ticks).tickSize(-5).tickPadding(8))
  ;[xAxis, yAxis].forEach(a => {
    a.select(".domain").remove()
    a.selectAll("line").attr("stroke", "#222").attr("stroke-width", 1)
    a.selectAll("text").style("font-size", "22px").style("font-family", '"Liberation Serif"').attr("fill", "#222")
  })

  //LABELS
  unitLabel(svg.append("text").attr("x", p.xlX).attr("y", p.xlY).attr("text-anchor","middle").style("font-size","21px"), "NWP " + p.xl, p.unit)
  unitLabel(svg.append("text").attr("text-anchor","middle").style("font-size","21px")
    .attr("transform", `translate(${p.ylX}, ${p.ylY}) rotate(-90)`), p.yl, p.unit)

  //STATS
  p.stats.forEach((s, j) => {
    svg.append("text").attr("x", p.statX).attr("y", p.statY[j]).style("font-size","21.4px").text(s)
  })
})
</script>
</body>
</html>
